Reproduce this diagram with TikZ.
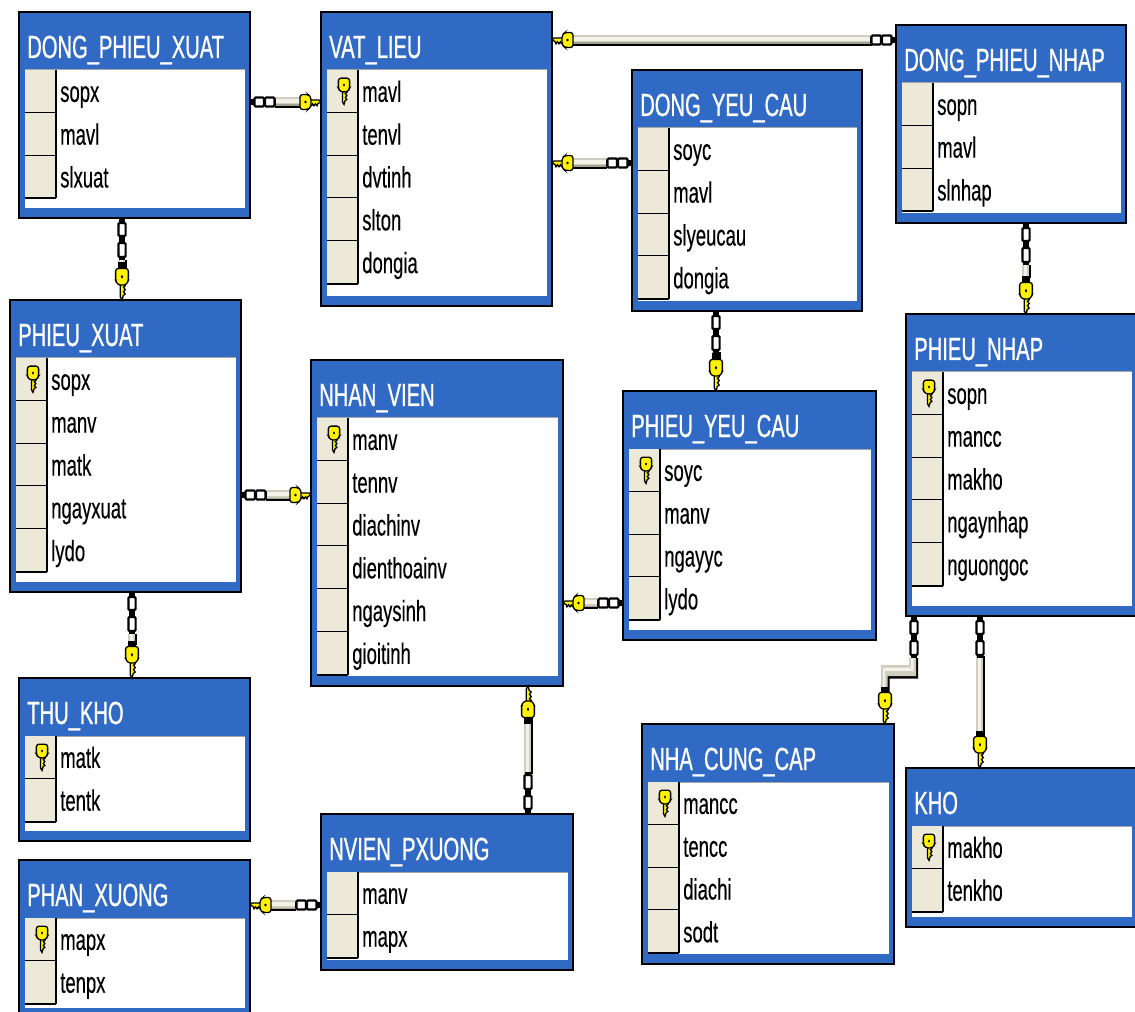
\documentclass[tikz,border=0pt]{standalone}
\usepackage{fontspec}
\newfontfamily\ttlfont[FakeStretch=0.63,FakeBold=0.8]{Liberation Sans}
\newfontfamily\rowfont[FakeStretch=0.63,FakeBold=0.3]{Liberation Sans}
\definecolor{hdrblue}{HTML}{316AC5}
\definecolor{gutter}{HTML}{ECE9D8}
\definecolor{keyy}{HTML}{FFF200}
\definecolor{pipeb}{HTML}{CFCDBD}
\definecolor{pipel}{HTML}{F3F1E8}
\definecolor{piped}{HTML}{A3A190}
\newcommand{\keybody}{%
  \path[keyshape] (0,0) -- (2,-2) -- (11,-2) -- (11,3.8) -- (9.5,3.8) -- (8.5,1.8) -- (7,3.8) -- (5.5,1.8) -- (4,3.8) -- (3,1.5) -- cycle;
  \path[keyshape,rounded corners=2pt] (10,-5) -- (13,-7.5) -- (21,-7.5) -- (21,7.5) -- (13,7.5) -- (10,5) -- cycle;
  \fill[black] (15.5,0) circle[radius=1.3];
}
\tikzset{
  x=0.75pt,y=-0.75pt,
  px/.style={line width=#1*0.75pt},
  tablebox/.style={draw=black,px=2.2,fill=hdrblue,rectangle,inner sep=0pt,outer sep=0pt},
  titletext/.style={anchor=base west,inner sep=0pt,text=white,font=\ttlfont\fontsize{24}{24}\selectfont},
  rowtext/.style={anchor=base west,inner sep=0pt,text=black,font=\rowfont\fontsize{22}{22}\selectfont},
  link/.style={draw=black,px=2.2,fill=white,rounded corners=0.8pt},
  keyshape/.style={draw=black,px=1.3,fill=keyy},
  connbase/.style={draw=black,px=2.5},
  keyglyph/.pic={\keybody},
  capkeyglyph/.pic={
    \fill[black] (19,-5) rectangle (25,5);
    \keybody
  },
  chainglyph/.pic={
    \fill[black] (0,-3) rectangle (26,3);
    \path[link] (4.5,-4.5) rectangle (14,4.5);
    \path[link] (15,-4.5) rectangle (24.5,4.5);
  },
  vchainglyph/.pic={
    \fill[black] (0,-3) rectangle (42,3);
    \path[link] (5,-3.6) rectangle (18,3.6);
    \path[link] (25,-3.6) rectangle (39,3.6);
  },
  rightkey/.style={rotate=180,yscale=-1},
  downkey/.style={rotate=90,xscale=1.5,yscale=.85},
  upkey/.style={rotate=-90,xscale=1.5,yscale=-.85},
}
% id, x0, y0, x1, y1, title, rows, key flag
\newcommand{\dbtable}[8]{%
  \pgfmathsetlengthmacro{\tw}{(#4-#2)*0.75pt}%
  \pgfmathsetlengthmacro{\th}{(#5-#3)*0.75pt}%
  \node[tablebox,minimum width=\tw,minimum height=\th] (#1) at ({(#2+#4)/2},{(#3+#5)/2}) {};
  \fill[white] (#2+6,#3+58) rectangle (#4-5,#5-10);
  \draw[gray!70,px=1] (#2+6,#3+58) -- (#4-5,#3+58);
  \node[titletext] (#1-title) at (#2+8,#3+46) {#6};
  \foreach \rowname [count=\ri] in {#7} {
    \pgfmathsetmacro{\ytop}{#3+58+(\ri-1)*42.8}
    \pgfmathsetmacro{\ybot}{\ytop+42.8}
    \pgfmathsetmacro{\ymid}{\ytop+21.4}
    \fill[gutter] (#2+6,\ytop) rectangle (#2+37,\ybot);
    \draw[black,px=2] (#2+6,\ybot) -- (#2+37,\ybot);
    \draw[black,px=1.5] (#2+37,\ytop) -- (#2+37,\ybot);
    \node[rowtext] (#1-row\ri) at (#2+41,\ymid+10.5) {\rowname};
    \ifnum\ri=1 \ifnum#8=1
      \path (#2+23,\ymid+13) pic[rotate=90,xscale=1.25,yscale=0.75] {keyglyph};
    \fi\fi
  }
}
\newcommand{\hpipe}[3]{% x1 x2 y
  \fill[black] (#1,#3+4) rectangle (#2,#3+6);
  \fill[pipeb] (#1,#3-5) rectangle (#2,#3+4);
  \fill[pipel] (#1,#3-3) rectangle (#2,#3+1);
  \fill[piped] (#1,#3+2.5) rectangle (#2,#3+4);
}
\newcommand{\vpipe}[3]{% x y1 y2
  \fill[black] (#1+2.5,#2) rectangle (#1+4.5,#3);
  \fill[pipeb] (#1-4,#2) rectangle (#1+2.5,#3);
  \fill[pipel] (#1-2.5,#2) rectangle (#1+1,#3);
}
\begin{document}
\begin{tikzpicture}
\useasboundingbox (0,0) rectangle (1135,1012);
\fill[white] (0,0) rectangle (1135,1012);
\clip (0,0) rectangle (1135,1012);

\dbtable{dpx}{19}{12}{250}{218}{DONG\_PHIEU\_XUAT}{sopx,mavl,slxuat}{0}
\dbtable{vl}{321}{12}{552}{306}{VAT\_LIEU}{mavl,tenvl,dvtinh,slton,dongia}{1}
\dbtable{dyc}{632}{70}{862}{311}{DONG\_YEU\_CAU}{soyc,mavl,slyeucau,dongia}{0}
\dbtable{dpn}{896}{25}{1126}{223}{DONG\_PHIEU\_NHAP}{sopn,mavl,slnhap}{0}
\dbtable{px}{10}{300}{241}{592}{PHIEU\_XUAT}{sopx,manv,matk,ngayxuat,lydo}{1}
\dbtable{nv}{311}{360}{563}{686}{NHAN\_VIEN}{manv,tennv,diachinv,dienthoainv,ngaysinh,gioitinh}{1}
\dbtable{pyc}{623}{391}{876}{640}{PHIEU\_YEU\_CAU}{soyc,manv,ngayyc,lydo}{1}
\dbtable{pn}{906}{314}{1137}{616}{PHIEU\_NHAP}{sopn,mancc,makho,ngaynhap,nguongoc}{1}
\dbtable{tk}{19}{678}{250}{841}{THU\_KHO}{matk,tentk}{1}
\dbtable{pxg}{19}{860}{250}{1018}{PHAN\_XUONG}{mapx,tenpx}{1}
\dbtable{nvp}{321}{814}{573}{970}{NVIEN\_PXUONG}{manv,mapx}{0}
\dbtable{ncc}{642}{724}{894}{964}{NHA\_CUNG\_CAP}{mancc,tencc,diachi,sodt}{1}
\dbtable{kho}{906}{768}{1137}{927}{KHO}{makho,tenkho}{1}

% horizontal connectors
\draw[connbase] (dpx.east |- 0,102) -- (vl.west |- 0,102);
\hpipe{275}{300}{102}
\path (vl.west |- 0,102) pic[rightkey] {keyglyph};
\path (dpx.east |- 0,102) pic {chainglyph};

\draw[connbase] (vl.east |- 0,40) -- (dpn.west |- 0,40);
\hpipe{572}{872}{40}
\path (vl.east |- 0,40) pic {keyglyph};
\path (dpn.west |- 0,40) pic[rotate=180] {chainglyph};

\draw[connbase] (vl.east |- 0,163) -- (dyc.west |- 0,163);
\hpipe{572}{607}{163}
\path (vl.east |- 0,163) pic {keyglyph};
\path (dyc.west |- 0,163) pic[rotate=180] {chainglyph};

\draw[connbase] (px.east |- 0,495) -- (nv.west |- 0,495);
\hpipe{266}{290}{495}
\path (nv.west |- 0,495) pic[rightkey] {keyglyph};
\path (px.east |- 0,495) pic {chainglyph};

\draw[connbase] (nv.east |- 0,603) -- (pyc.west |- 0,603);
\hpipe{583}{598}{603}
\path (nv.east |- 0,603) pic {keyglyph};
\path (pyc.west |- 0,603) pic[rotate=180] {chainglyph};

\draw[connbase] (pxg.east |- 0,905) -- (nvp.west |- 0,905);
\hpipe{270}{296}{905}
\path (pxg.east |- 0,905) pic {keyglyph};
\path (nvp.west |- 0,905) pic[rotate=180] {chainglyph};

% vertical connectors
\draw[connbase] (122,0 |- dpx.south) -- (122,0 |- px.north);
\vpipe{122}{260}{272}
\path (122,0 |- dpx.south) pic[rotate=-90] {vchainglyph};
\path (122,0 |- px.north) pic[downkey] {capkeyglyph};

\draw[connbase] (716,0 |- dyc.south) -- (716,0 |- pyc.north);
\vpipe{716}{352}{362}
\path (716,0 |- dyc.south) pic[rotate=-90] {vchainglyph};
\path (716,0 |- pyc.north) pic[downkey] {capkeyglyph};

\draw[connbase] (1026,0 |- dpn.south) -- (1026,0 |- pn.north);
\vpipe{1026}{265}{278}
\path (1026,0 |- dpn.south) pic[rotate=-90] {vchainglyph};
\path (1026,0 |- pn.north) pic[downkey] {capkeyglyph};

\draw[connbase] (132,0 |- px.south) -- (132,0 |- tk.north);
\vpipe{132}{634}{645}
\path (132,0 |- px.south) pic[rotate=-90] {vchainglyph};
\path (132,0 |- tk.north) pic[downkey] {capkeyglyph};

\draw[connbase] (528,0 |- nv.south) -- (528,0 |- nvp.north);
\vpipe{528}{718}{774}
\path (528,0 |- nv.south) pic[upkey] {capkeyglyph};
\path (528,0 |- nvp.north) pic[rotate=90] {vchainglyph};

\draw[connbase] (980,0 |- pn.south) -- (980,0 |- kho.north);
\vpipe{980}{656}{736}
\path (980,0 |- pn.south) pic[rotate=-90] {vchainglyph};
\path (980,0 |- kho.north) pic[downkey] {capkeyglyph};

% elbow connector
\draw[connbase] (914,0 |- pn.south) -- (914,672) -- (885,672) -- (885,0 |- ncc.north);
\fill[black] (918,658) -- (918,678.5) -- (889.5,678.5) -- (889.5,692) -- (881,692) -- (881,670) -- (912,670) -- (912,658) -- cycle;
\fill[pipeb] (916,658) -- (916,676) -- (887.5,676) -- (887.5,692) -- (881,692) -- (881,665) -- (909,665) -- (909,658) -- cycle;
\fill[pipel] (913.5,658) -- (913.5,671) -- (885,671) -- (885,692) -- (883,692) -- (883,667.5) -- (911,667.5) -- (911,658) -- cycle;
\path (914,0 |- pn.south) pic[rotate=-90] {vchainglyph};
\path (885,0 |- ncc.north) pic[downkey] {capkeyglyph};
\end{tikzpicture}
\end{document}
